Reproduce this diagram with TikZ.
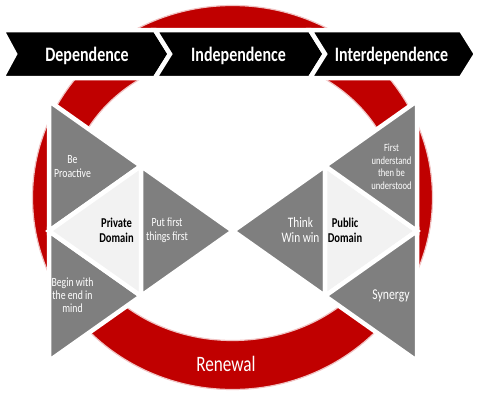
\documentclass[tikz,border=0pt]{standalone}
\usepackage{fontspec}
\setmainfont{Carlito}[FakeStretch=0.78]
\usepackage{tikz}
\definecolor{ringred}{RGB}{192,0,0}
\definecolor{ringedge}{RGB}{240,195,195}
\definecolor{trigray}{RGB}{127,127,127}
\definecolor{trilight}{RGB}{242,242,242}
\newcommand\fsz[2]{\fontsize{#1}{#2}\selectfont}

\begin{document}
\begin{tikzpicture}[x=1pt,y=-1pt]
	\tikzstyle{chevron}=[fill=black,draw=white,line width=4.5pt,line join=miter]
	\tikzstyle{tri}=[fill=trigray,draw=white,line width=4.5pt,line join=miter]
	\tikzstyle{trilt}=[tri,fill=trilight]
	\tikzstyle{banner}=[text=white,anchor=base,inner sep=0pt,font=\bfseries\fsz{20.5}{22}]
	\tikzstyle{tritext}=[text=white,align=center,inner sep=0pt]
	\tikzstyle{domaintext}=[text=black,align=center,inner sep=0pt,font=\bfseries\fsz{13.5}{15}]
	\useasboundingbox (0,0) rectangle (480,400);
	\fill[ringred,even odd rule,draw=ringedge,line width=1.2pt] (232.5,197.5) ellipse [x radius=200,y radius=192] (232.5,197.5) ellipse [x radius=165,y radius=143];
	\draw[chevron] (2,30) -- (155,30) -- (170,54) -- (155,78) -- (2,78) -- (15,54) -- cycle;
	\draw[chevron] (155,30) -- (310,30) -- (325,54) -- (310,78) -- (155,78) -- (170,54) -- cycle;
	\draw[chevron] (310,30) -- (461,30) -- (476,54) -- (461,78) -- (310,78) -- (325,54) -- cycle;
	\coordinate (lt) at (49,101);
	\coordinate (lm) at (49,231);
	\coordinate (lb) at (49,361);
	\coordinate (li) at (141,166);
	\coordinate (lj) at (141,296);
	\coordinate (mid) at (233,231);
	\coordinate (ri) at (325,166);
	\coordinate (rj) at (325,296);
	\coordinate (rt) at (417,101);
	\coordinate (rm) at (417,231);
	\coordinate (rb) at (417,361);
	\draw[tri] (lt) -- (lm) -- (li) -- cycle;
	\draw[tri] (lm) -- (lb) -- (lj) -- cycle;
	\draw[trilt] (lm) -- (li) -- (lj) -- cycle;
	\draw[tri] (li) -- (lj) -- (mid) -- cycle;
	\draw[tri] (mid) -- (ri) -- (rj) -- cycle;
	\draw[trilt] (ri) -- (rj) -- (rm) -- cycle;
	\draw[tri] (ri) -- (rt) -- (rm) -- cycle;
	\draw[tri] (rj) -- (rm) -- (rb) -- cycle;
	\node[banner] (dep) at (87,61) {Dependence};
	\node[banner] (indep) at (238.5,61) {Independence};
	\node[banner] (interdep) at (391.5,61) {Interdependence};
	\node[tritext,font=\fsz{12.5}{13.3}] (proactive) at (72.5,166.5) {Be\\Proactive};
	\node[tritext,font=\fsz{12.5}{13.3}] (endmind) at (72.5,295) {Begin with\\the end in\\mind};
	\node[domaintext] (private) at (116.5,230.5) {Private\\Domain};
	\node[tritext,font=\fsz{12.5}{14}] (firstthings) at (167,230) {Put first\\things first};
	\node[tritext,font=\fsz{11}{12.5}] (understand) at (391.5,167) {First\\understand\\then be\\understood};
	\node[tritext,font=\fsz{14.5}{15}] (winwin) at (300.5,229.5) {Think\\Win win};
	\node[domaintext] (public) at (345,230.5) {Public\\Domain};
	\node[tritext,font=\fsz{15}{16}] (synergy) at (391,296) {Synergy};
	\node[text=white,anchor=base,inner sep=0pt,font=\fsz{22}{24}] (renewal) at (226,371.7) {Renewal};
\end{tikzpicture}
\end{document}
